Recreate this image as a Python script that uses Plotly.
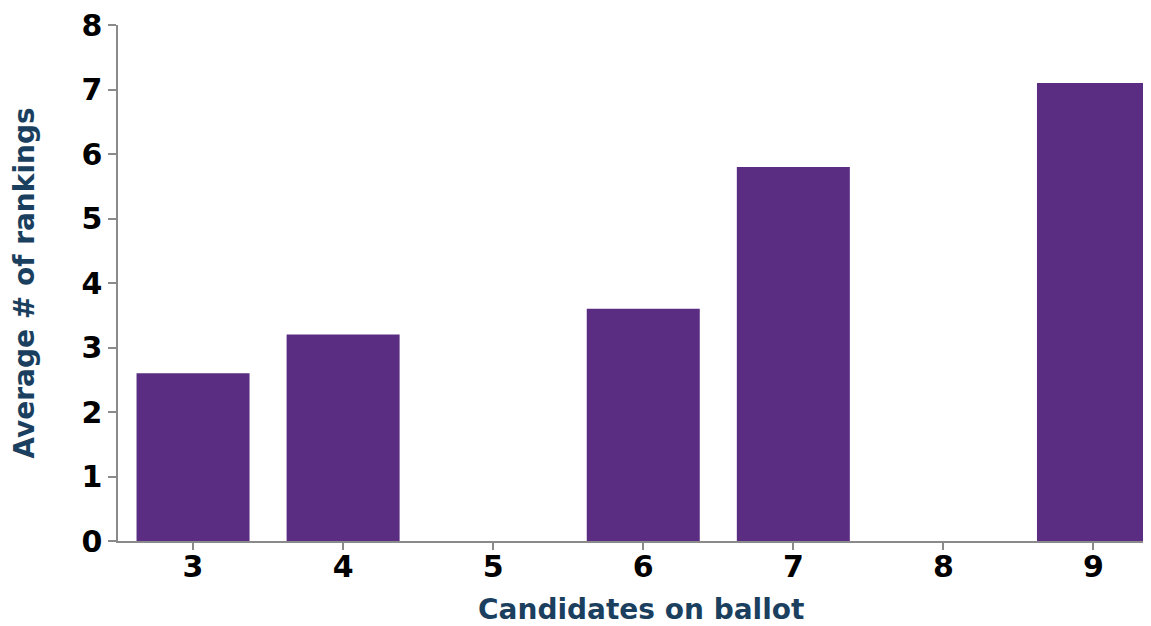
import plotly.graph_objects as go

categories = [3, 4, 5, 6, 7, 8, 9]
avg_rankings = [2.6, 3.2, None, 3.6, 5.8, None, 7.1]
y_ticks = [0, 1, 2, 3, 4, 5, 6, 7, 8]
x_title = "Candidates on ballot"
y_title = "Average # of rankings"

BAR = "#5A2D82"
TITLE = "#1B3F5E"
AXIS = "#8a8a8a"
FONT = "DejaVu Sans"

fig = go.Figure(
    go.Bar(
        x=categories,
        y=avg_rankings,
        width=0.753,
        marker=dict(color=BAR, line=dict(width=0)),
        hoverinfo="x+y",
    )
)

fig.update_layout(
    width=1135,
    height=622,
    margin=dict(l=110, r=0, t=17, b=89),
    paper_bgcolor="white",
    plot_bgcolor="white",
    showlegend=False,
    font=dict(family=FONT, color="black"),
)

fig.add_annotation(
    text=x_title,
    xref="paper", yref="paper",
    x=0.5102, y=0,
    xanchor="center", yanchor="middle",
    yshift=-68,
    showarrow=False,
    font=dict(family=FONT, size=28, color=TITLE, weight="bold"),
)

fig.update_xaxes(
    range=[2.5, 9.33],
    tickmode="array",
    tickvals=categories,
    ticktext=[str(c) for c in categories],
    ticks="outside",
    ticklen=7,
    tickcolor=AXIS,
    tickwidth=1.5,
    showline=True,
    linecolor=AXIS,
    linewidth=1.5,
    showgrid=False,
    zeroline=False,
    ticklabelstandoff=-9,
    ticklabeloverflow="allow",
    tickfont=dict(family=FONT, size=30, color="black", weight="bold"),
    automargin=False,
)

fig.update_yaxes(
    range=[0, 8],
    tickmode="array",
    tickvals=y_ticks,
    ticks="outside",
    ticklen=8,
    tickcolor=AXIS,
    tickwidth=1.5,
    showline=True,
    linecolor=AXIS,
    linewidth=1.5,
    showgrid=False,
    zeroline=False,
    ticklabeloverflow="allow",
    tickfont=dict(family=FONT, size=30, color="black", weight="bold"),
    title=dict(
        text=y_title,
        font=dict(family=FONT, size=28, color=TITLE, weight="bold"),
        standoff=39,
    ),
    automargin=False,
)

fig.write_html("out.html")
